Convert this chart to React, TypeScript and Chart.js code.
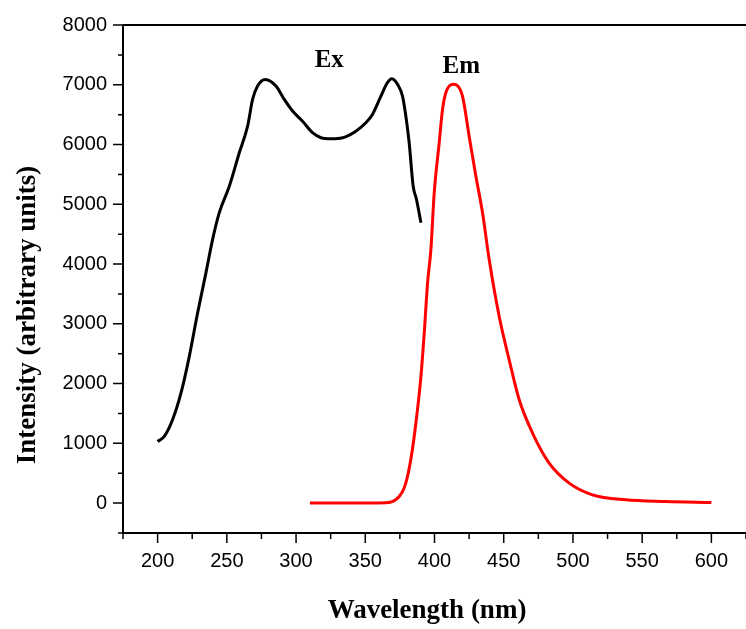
import React, { useEffect, useRef } from "react";
import { Chart, registerables } from "chart.js";

Chart.register(...registerables);

// Excitation spectrum (black)
const exWavelength = [200, 204.8, 210.8, 216.9, 222.9, 228.9, 234.9, 239.7, 244.5, 251.8, 259, 265, 268.6, 272.2, 277.8, 285.5, 291.5, 297.5, 304.7, 311.9, 318, 325.2, 333.6, 343.2, 350.4, 355.2, 361.3, 366, 369.2, 373.3, 376.9, 379.3, 381.7, 384.6, 387, 390.2];
const exIntensity = [1030, 1116, 1395, 1843, 2456, 3183, 3853, 4410, 4857, 5303, 5863, 6308, 6755, 6979, 7090, 6979, 6755, 6560, 6390, 6198, 6114, 6097, 6114, 6224, 6365, 6504, 6811, 7035, 7102, 7007, 6811, 6476, 6030, 5303, 5080, 4690];

// Emission spectrum (red)
const emWavelength = [310, 330, 350, 365, 370, 374.5, 378, 380.5, 384, 387.7, 390.2, 392.6, 395, 397.4, 399.8, 403.4, 405.8, 408.2, 414.2, 420.2, 425, 429.9, 434.7, 439.5, 446.7, 453.9, 461.2, 470.8, 482.8, 497.3, 514.1, 538.2, 567, 600];
const emIntensity = [0, 0, 3, 8, 30, 110, 250, 445, 893, 1563, 2120, 2848, 3685, 4245, 5193, 6030, 6588, 6868, 7007, 6811, 6141, 5470, 4857, 4075, 3126, 2400, 1730, 1172, 670, 335, 139, 55, 27, 10];

const xMin = 175;
const xMax = 625;
const yMin = -500;
const yMax = 8000;

const xTitle = "Wavelength (nm)";
const yTitle = "Intensity (arbitrary units)";
const annotations = [
  { text: "Ex", x: 324, y: 7400 },
  { text: "Em", x: 419.3, y: 7310 },
];

const axesPlugin = {
  id: "customAxes",
  afterDraw(chart: any) {
    const { ctx, chartArea } = chart;
    const xs = chart.scales.x;
    const ys = chart.scales.y;
    const { left, top, bottom } = chartArea;
    ctx.save();
    ctx.strokeStyle = "#000";
    ctx.lineWidth = 2;
    ctx.beginPath();
    ctx.moveTo(left, top);
    ctx.lineTo(left, bottom);
    ctx.lineTo(chart.width, bottom);
    ctx.moveTo(left, top);
    ctx.lineTo(chart.width, top);
    ctx.stroke();
    ctx.lineWidth = 1.5;
    ctx.beginPath();
    xs.ticks.forEach((t: any) => {
      const px = xs.getPixelForValue(t.value);
      const len = t.value % 50 === 0 ? 10 : 6;
      ctx.moveTo(px, bottom);
      ctx.lineTo(px, bottom + len);
    });
    ys.ticks.forEach((t: any) => {
      const py = ys.getPixelForValue(t.value);
      const len = t.value % 1000 === 0 ? 10 : 5;
      ctx.moveTo(left, py);
      ctx.lineTo(left - len, py);
    });
    ctx.stroke();

    ctx.fillStyle = "#000";
    ctx.font = "bold 25px 'Liberation Serif', 'Times New Roman', serif";
    ctx.textAlign = "center";
    ctx.textBaseline = "middle";
    annotations.forEach((a) => {
      ctx.fillText(a.text, xs.getPixelForValue(a.x), ys.getPixelForValue(a.y));
    });

    ctx.font = "bold 27px 'Liberation Serif', 'Times New Roman', serif";
    ctx.fillText(xTitle, 427, 611);
    ctx.translate(28, 315);
    ctx.rotate(-Math.PI / 2);
    ctx.fillText(yTitle, 0, 0);
    ctx.restore();
  },
};

export default function App() {
  const ref = useRef<HTMLCanvasElement>(null);
  useEffect(() => {
    document.body.style.margin = "0";
    const chart = new Chart(ref.current!, {
      type: "line",
      data: {
        datasets: [
          {
            label: "Ex",
            data: exWavelength.map((x, i) => ({ x, y: exIntensity[i] })),
            borderColor: "#000000",
            borderWidth: 3,
            pointRadius: 0,
            cubicInterpolationMode: "monotone",
            fill: false,
          },
          {
            label: "Em",
            data: emWavelength.map((x, i) => ({ x, y: emIntensity[i] })),
            borderColor: "#ff0000",
            borderWidth: 3,
            pointRadius: 0,
            cubicInterpolationMode: "monotone",
            fill: false,
          },
        ],
      },
      options: {
        animation: false,
        responsive: false,
        maintainAspectRatio: false,
        layout: { padding: { top: 25, left: 0, right: 0, bottom: 0 } },
        plugins: { legend: { display: false }, tooltip: { enabled: false } },
        scales: {
          x: {
            type: "linear",
            min: xMin,
            max: xMax,
            grid: { display: false, drawTicks: false },
            border: { display: false },
            afterFit: (s: any) => {
              s.height = 96;
              s.paddingLeft = 0;
              s.paddingRight = 0;
            },
            ticks: {
              stepSize: 25,
              autoSkip: false,
              maxRotation: 0,
              padding: 16,
              color: "#000",
              font: { family: "'Liberation Sans', Arial, sans-serif", size: 20 },
              callback: (v: any) => (Number(v) % 50 === 0 ? String(v) : ""),
            },
          },
          y: {
            type: "linear",
            min: yMin,
            max: yMax,
            grid: { display: false, drawTicks: false },
            border: { display: false },
            afterFit: (s: any) => {
              s.width = 123;
              s.paddingTop = 0;
              s.paddingBottom = 0;
            },
            ticks: {
              stepSize: 500,
              autoSkip: false,
              padding: 16,
              color: "#000",
              font: { family: "'Liberation Sans', Arial, sans-serif", size: 20 },
              callback: (v: any) => (Number(v) % 1000 === 0 && Number(v) >= 0 ? String(v) : ""),
            },
          },
        },
      },
      plugins: [axesPlugin],
    });
    return () => chart.destroy();
  }, []);
  return (
    <div style={{ position: "absolute", left: 0, top: 0, width: 746, height: 629 }}>
      <canvas ref={ref} width={746} height={629} style={{ width: 746, height: 629 }} />
    </div>
  );
}
